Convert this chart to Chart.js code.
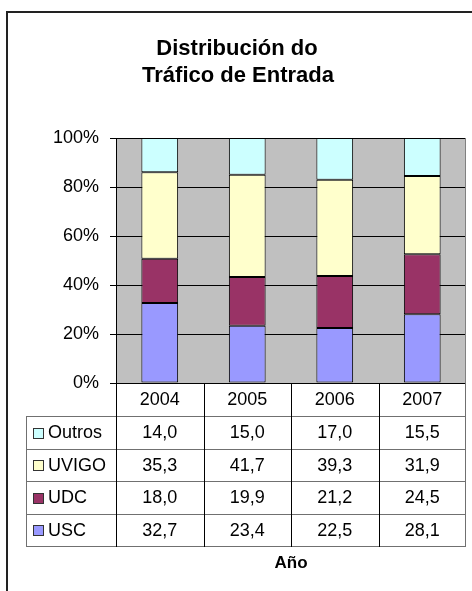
<!DOCTYPE html>
<html>
<head>
<meta charset="utf-8">
<script src="https://cdn.jsdelivr.net/npm/chart.js@4"></script>
<style>
  html, body { margin: 0; padding: 0; background: #fff; }
  #wrap { width: 472px; height: 591px; position: relative; }
</style>
</head>
<body>
<div id="wrap"><canvas id="c" width="472" height="591"></canvas></div>
<script>
const titleLines = ['Distribución do', 'Tráfico de Entrada'];
const xAxisTitle = 'Año';
const years = ['2004', '2005', '2006', '2007'];
const seriesNames = ['USC', 'UDC', 'UVIGO', 'Outros'];
const usc = [32.7, 23.4, 22.5, 28.1];
const udc = [18.0, 19.9, 21.2, 24.5];
const uvigo = [35.3, 41.7, 39.3, 31.9];
const outros = [14.0, 15.0, 17.0, 15.5];
const yTicks = [0, 20, 40, 60, 80, 100];
const colors = ['#9999FF', '#993366', '#FFFFCC', '#CCFFFF'];

const FONT = '"Liberation Sans", Arial, Helvetica, sans-serif';
const seriesValues = [usc, udc, uvigo, outros];

const framePlugin = {
  id: 'frameAndTable',
  beforeDraw(chart) {
    const { ctx, chartArea: a } = chart;
    ctx.save();
    ctx.fillStyle = '#ffffff';
    ctx.fillRect(0, 0, chart.width, chart.height);
    ctx.fillStyle = '#C0C0C0';
    ctx.fillRect(a.left, a.top, a.right - a.left, a.bottom - a.top);
    ctx.restore();
  },
  afterDraw(chart) {
    const { ctx, chartArea: a } = chart;
    const xs = chart.scales.x;
    const n = years.length;
    const colW = (a.right - a.left) / n;
    const bounds = [];
    for (let i = 0; i <= n; i++) bounds.push(Math.round(xs.getPixelForValue(0) - colW / 2 + i * colW));
    ctx.save();

    // outer frame (extends beyond canvas on right/bottom)
    ctx.strokeStyle = '#222';
    ctx.lineWidth = 2;
    ctx.beginPath();
    ctx.moveTo(7, 700); ctx.lineTo(7, 12); ctx.lineTo(600, 12);
    ctx.stroke();

    // title
    ctx.fillStyle = '#000';
    ctx.font = 'bold 22px ' + FONT;
    ctx.textAlign = 'center';
    ctx.textBaseline = 'alphabetic';
    ctx.fillText(titleLines[0], 237, 55);
    ctx.fillText(titleLines[1], 238, 82);

    // plot right border
    ctx.strokeStyle = '#808080';
    ctx.lineWidth = 1;
    ctx.beginPath();
    ctx.moveTo(a.right - 0.5, a.top); ctx.lineTo(a.right - 0.5, a.bottom);
    ctx.stroke();

    // data table
    const headTop = Math.round(a.bottom);
    const headBot = headTop + 33;
    const rowH = 32.5;
    const tableLeft = 26;
    const rowTops = [];
    for (let r = 0; r <= seriesNames.length; r++) rowTops.push(Math.round(headBot + r * rowH));
    const tableBot = rowTops[rowTops.length - 1];

    // horizontal lines
    ctx.strokeStyle = '#707070';
    ctx.lineWidth = 1;
    ctx.beginPath();
    rowTops.forEach(y => { ctx.moveTo(tableLeft, y + 0.5); ctx.lineTo(bounds[n], y + 0.5); });
    ctx.moveTo(tableLeft + 0.5, headBot); ctx.lineTo(tableLeft + 0.5, tableBot + 1);
    ctx.moveTo(bounds[n] - 0.5, headTop); ctx.lineTo(bounds[n] - 0.5, tableBot + 1);
    ctx.stroke();

    // vertical lines
    ctx.strokeStyle = '#000';
    ctx.beginPath();
    for (let i = 0; i < n; i++) {
      ctx.moveTo(bounds[i] + 0.5, headTop); ctx.lineTo(bounds[i] + 0.5, tableBot + 1);
    }
    ctx.stroke();

    // header years
    ctx.fillStyle = '#000';
    ctx.font = '18px ' + FONT;
    ctx.textAlign = 'center';
    ctx.textBaseline = 'middle';
    years.forEach((yr, i) => ctx.fillText(yr, xs.getPixelForValue(i), (headTop + headBot) / 2 + 1));

    // rows: reverse order (Outros on top)
    const order = [3, 2, 1, 0];
    order.forEach((si, r) => {
      const y0 = rowTops[r], y1 = rowTops[r + 1];
      const cy = (y0 + y1) / 2 + 1;
      // swatch
      ctx.fillStyle = colors[si];
      ctx.fillRect(33, Math.round(cy - 6), 11, 11);
      ctx.strokeStyle = '#333';
      ctx.strokeRect(33.5, Math.round(cy - 6) + 0.5, 10, 10);
      ctx.fillStyle = '#000';
      ctx.textAlign = 'left';
      ctx.fillText(seriesNames[si], 48, cy);
      ctx.textAlign = 'center';
      seriesValues[si].forEach((v, i) => {
        ctx.fillText(v.toFixed(1).replace('.', ','), xs.getPixelForValue(i), cy);
      });
    });

    // x axis title
    ctx.font = 'bold 17px ' + FONT;
    ctx.textAlign = 'center';
    ctx.textBaseline = 'alphabetic';
    ctx.fillText(xAxisTitle, (a.left + a.right) / 2, 568);

    ctx.restore();
  }
};

new Chart(document.getElementById('c'), {
  type: 'bar',
  data: {
    labels: years,
    datasets: seriesNames.map((name, i) => ({
      label: name,
      data: seriesValues[i],
      backgroundColor: colors[i],
      borderColor: '#000',
      borderWidth: 1,
      borderSkipped: false,
      categoryPercentage: 1.0,
      barPercentage: 0.42
    }))
  },
  options: {
    responsive: false,
    animation: false,
    devicePixelRatio: 1,
    layout: { padding: { left: 0, right: 6, top: 138, bottom: 208 } },
    plugins: {
      legend: { display: false },
      title: { display: false },
      tooltip: { enabled: false }
    },
    scales: {
      x: { stacked: true, display: false },
      y: {
        stacked: true,
        min: 0,
        max: 100,
        afterFit(scale) { scale.width = 116; },
        afterBuildTicks(scale) { scale.ticks = yTicks.map(v => ({ value: v })); },
        ticks: {
          padding: 11,
          color: '#000',
          font: { family: FONT, size: 18 },
          callback: v => v + '%'
        },
        grid: { color: '#000', lineWidth: 1, tickLength: 6, drawTicks: true },
        border: { display: true, color: '#000', width: 1 }
      }
    }
  },
  plugins: [framePlugin]
});
</script>
</body>
</html>
